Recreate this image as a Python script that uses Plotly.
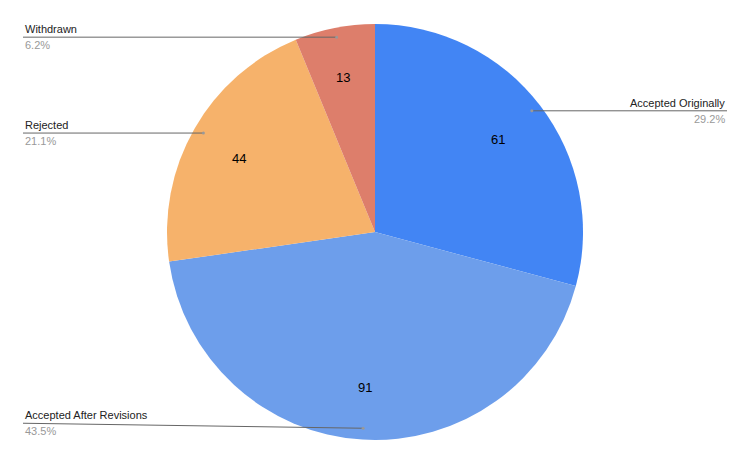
import math
import plotly.graph_objects as go

labels = ["Accepted Originally", "Accepted After Revisions", "Rejected", "Withdrawn"]
values = [61, 91, 44, 13]
colors = ["#4285f4", "#6d9eeb", "#f6b26b", "#dd7e6b"]

# the page adds an 8px body margin, so draw on a slightly smaller canvas
OFF = 8
W, H = 750 - 2 * OFF, 463 - 2 * OFF
cx, cy, R = 375 - OFF, 231 - OFF, 208

fig = go.Figure(go.Pie(
    labels=labels, values=values, sort=False, direction="clockwise", rotation=0,
    marker=dict(colors=colors, line=dict(width=0)),
    textinfo="none",
    domain=dict(x=[0, 1], y=[(cy - R) / H, (cy + R) / H]),
    showlegend=False, hoverinfo="label+value+percent",
))

# leader lines, outside labels and inside values, placed from each slice's mid-angle
total = sum(values)
shapes, annots = [], []
start = 0
for name, v in zip(labels, values):
    mid = (start + v / 2) / total * 2 * math.pi
    start += v
    px = cx + 0.95 * R * math.sin(mid)
    py = cy - 0.95 * R * math.cos(mid)
    vx = cx + 0.8 * R * math.sin(mid)
    vy = cy - 0.8 * R * math.cos(mid)
    right = px > cx
    lx = 727 - OFF if right else 23 - OFF
    ly = py - 5 if py > cy + 150 else py
    shapes.append(dict(type="line", xref="paper", yref="paper",
                       x0=lx / W, y0=1 - ly / H, x1=px / W, y1=1 - py / H,
                       line=dict(color="#666666", width=1)))
    shapes.append(dict(type="circle", xref="paper", yref="paper",
                       x0=(px - 1.5) / W, x1=(px + 1.5) / W,
                       y0=1 - (py + 1.5) / H, y1=1 - (py - 1.5) / H,
                       fillcolor="#999999", line=dict(width=0)))
    anchor = "right" if right else "left"
    annots.append(dict(x=lx / W, y=1 - ly / H, xref="paper", yref="paper",
                       text=name, showarrow=False, xanchor=anchor, yanchor="bottom",
                       font=dict(family="Arial", size=11, color="#222222")))
    annots.append(dict(x=lx / W, y=1 - ly / H, xref="paper", yref="paper",
                       text=f"{v / total * 100:.1f}%", showarrow=False,
                       xanchor=anchor, yanchor="top",
                       font=dict(family="Arial", size=11, color="#999999")))
    annots.append(dict(x=vx / W, y=1 - vy / H, xref="paper", yref="paper",
                       text=str(v), showarrow=False,
                       font=dict(family="Arial", size=13, color="black")))

fig.update_layout(
    width=W, height=H, margin=dict(l=0, r=0, t=0, b=0),
    paper_bgcolor="white", plot_bgcolor="white",
    shapes=shapes, annotations=annots,
)

fig.write_html("out.html")
